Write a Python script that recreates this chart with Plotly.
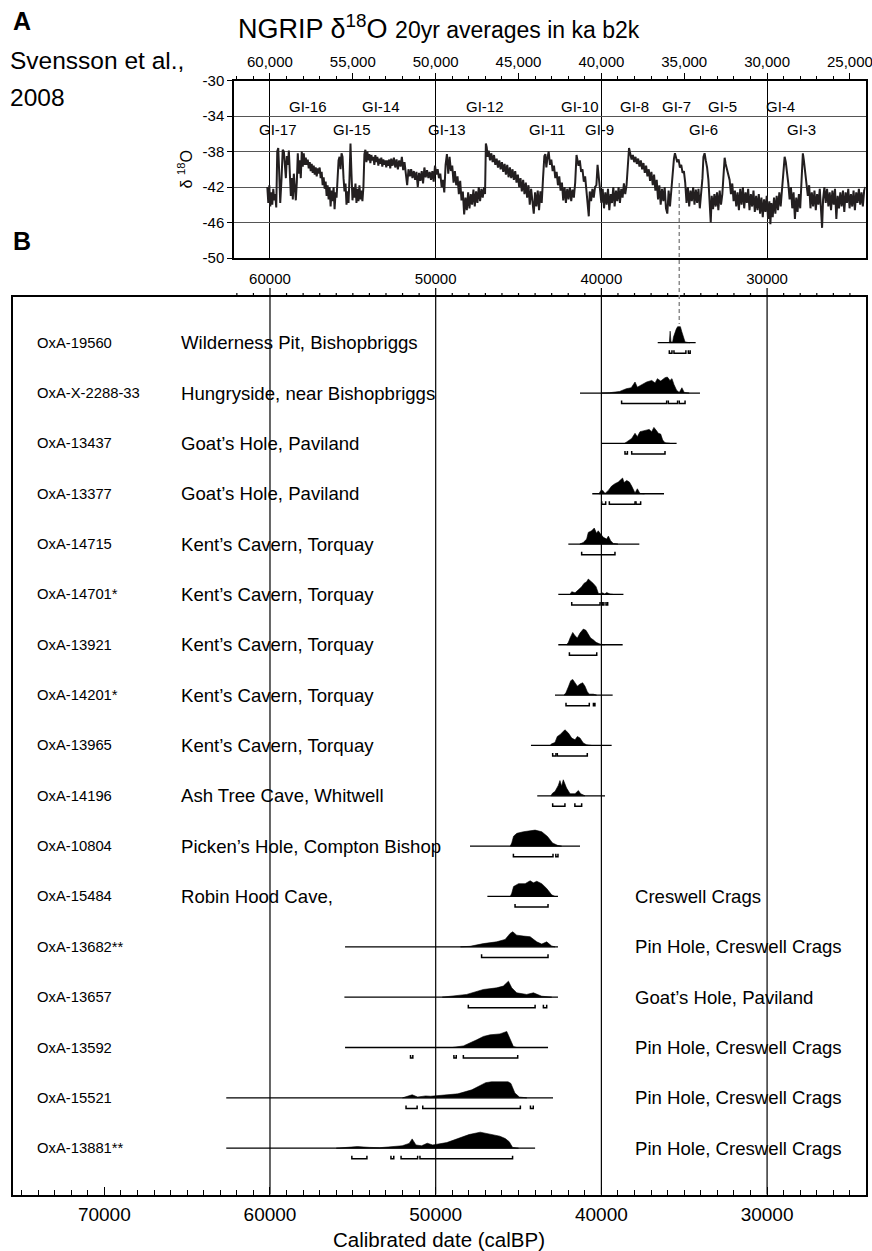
import plotly.graph_objects as go

# ---------------- DATA ----------------
ngrip = [
    (60160,-42.0),(60100,-43.8),(60040,-41.8),(59980,-44.2),(59920,-42.6),(59860,-44.0),(59800,-42.2),(59740,-43.5),
    (59680,-42.8),(59620,-44.3),(59560,-38.0),(59500,-37.6),(59440,-40.5),(59380,-43.8),(59300,-41.0),(59230,-37.8),
    (59160,-38.0),(59100,-39.5),(59040,-41.0),(58980,-38.5),(58920,-39.5),(58860,-37.9),(58800,-40.0),(58740,-43.0),
    (58680,-41.0),(58620,-43.4),(58560,-40.5),(58500,-42.0),(58440,-43.5),(58380,-41.5),(58320,-38.2),(58260,-40.5),
    (58200,-39.0),(58140,-41.0),(58080,-38.0),(58020,-39.7),(57960,-38.2),(57900,-39.5),(57840,-38.7),(57780,-39.5),
    (57720,-38.9),(57660,-39.9),(57600,-39.2),(57540,-40.2),(57480,-39.4),(57420,-40.4),(57360,-39.6),(57300,-40.6),
    (57240,-39.8),(57180,-40.8),(57120,-39.9),(57060,-40.5),(57000,-39.8),(56940,-41.0),(56880,-40.3),(56820,-41.8),
    (56760,-40.9),(56700,-42.2),(56640,-41.4),(56580,-43.0),(56520,-41.8),(56460,-43.4),(56400,-42.0),(56340,-44.2),
    (56280,-42.4),(56220,-43.6),(56160,-42.0),(56100,-44.5),(56040,-42.6),(55980,-43.2),(55920,-41.0),(55860,-39.0),
    (55800,-38.6),(55740,-40.0),(55680,-38.2),(55620,-38.6),(55560,-41.0),(55500,-42.5),(55440,-41.6),(55380,-44.0),
    (55320,-42.5),(55260,-43.8),(55200,-41.0),(55140,-37.1),(55080,-40.5),(55020,-43.5),(54960,-42.0),(54900,-43.2),
    (54840,-41.6),(54780,-43.8),(54720,-42.2),(54660,-43.6),(54600,-41.8),(54540,-43.4),(54480,-42.4),(54420,-43.6),
    (54360,-42.0),(54300,-38.3),(54240,-37.8),(54180,-39.2),(54120,-38.0),(54060,-39.0),(54000,-38.3),(53940,-39.3),
    (53880,-38.4),(53820,-39.0),(53760,-38.6),(53700,-39.5),(53640,-38.4),(53580,-39.2),(53520,-38.6),(53460,-39.6),
    (53400,-38.8),(53340,-39.4),(53280,-38.7),(53220,-39.7),(53160,-38.9),(53100,-39.5),(53040,-39.0),(52980,-39.8),
    (52920,-39.0),(52860,-39.6),(52800,-38.9),(52740,-39.9),(52680,-38.8),(52600,-39.6),(52520,-38.7),(52440,-39.8),
    (52360,-38.9),(52280,-40.0),(52200,-39.0),(52120,-39.7),(52040,-38.6),(51960,-40.1),(51880,-39.2),(51800,-40.4),
    (51720,-41.8),(51640,-40.0),(51560,-40.8),(51480,-40.0),(51400,-41.0),(51320,-40.2),(51240,-41.2),(51160,-40.3),
    (51080,-42.0),(51000,-40.4),(50920,-41.3),(50840,-40.2),(50760,-41.6),(50680,-39.8),(50600,-40.9),(50520,-40.1),
    (50440,-41.0),(50360,-40.3),(50280,-41.2),(50200,-40.2),(50120,-41.4),(50040,-39.6),(49960,-40.6),(49880,-40.0),
    (49800,-41.0),(49720,-40.5),(49640,-42.0),(49560,-41.2),(49480,-42.6),(49400,-39.5),(49320,-38.3),(49240,-40.5),
    (49160,-38.6),(49080,-40.2),(49000,-39.6),(48920,-41.5),(48840,-40.2),(48760,-41.8),(48680,-40.8),(48600,-42.8),
    (48520,-41.3),(48440,-43.5),(48360,-42.5),(48280,-45.1),(48200,-43.2),(48120,-44.6),(48040,-42.6),(47960,-44.4),
    (47880,-42.8),(47800,-44.0),(47720,-42.3),(47640,-44.2),(47560,-42.5),(47480,-43.8),(47400,-42.0),(47320,-43.6),
    (47240,-42.2),(47160,-43.2),(47080,-42.0),(47020,-42.8),(46970,-37.1),(46920,-37.5),(46860,-38.6),(46800,-37.9),
    (46720,-39.0),(46640,-38.2),(46560,-39.2),(46480,-38.4),(46400,-39.5),(46320,-38.8),(46240,-39.8),(46160,-39.0),
    (46080,-40.0),(46000,-39.2),(45920,-40.3),(45840,-39.4),(45760,-40.6),(45680,-39.5),(45600,-40.9),(45520,-39.8),
    (45440,-41.0),(45360,-40.0),(45280,-41.2),(45200,-40.2),(45120,-41.5),(45040,-40.6),(44960,-42.0),(44880,-41.0),
    (44800,-42.5),(44720,-41.2),(44640,-42.8),(44560,-41.5),(44480,-43.2),(44400,-41.8),(44320,-44.0),(44240,-42.2),
    (44160,-43.6),(44080,-45.0),(44000,-42.6),(43920,-44.2),(43840,-42.4),(43760,-44.6),(43680,-42.5),(43600,-43.8),
    (43520,-41.0),(43440,-38.5),(43380,-38.3),(43320,-39.8),(43260,-38.8),(43180,-38.0),(43100,-39.5),(43020,-38.9),
    (42940,-40.2),(42860,-39.6),(42780,-41.0),(42700,-40.3),(42620,-41.8),(42540,-40.8),(42460,-42.4),(42380,-41.5),
    (42300,-43.5),(42220,-42.0),(42140,-43.8),(42060,-42.2),(41980,-43.4),(41900,-42.0),(41820,-43.6),(41740,-42.3),
    (41660,-43.2),(41580,-41.5),(41500,-38.4),(41440,-38.9),(41380,-39.6),(41300,-39.0),(41220,-40.3),(41140,-40.0),
    (41060,-41.4),(40980,-40.8),(40900,-42.4),(40820,-43.8),(40760,-45.3),(40700,-42.5),(40620,-43.6),(40540,-42.2),
    (40460,-43.2),(40380,-42.0),(40300,-41.8),(40230,-39.5),(40160,-40.8),(40080,-42.6),(40000,-43.8),(39920,-42.2),
    (39840,-44.4),(39760,-42.6),(39680,-44.0),(39600,-42.2),(39520,-44.6),(39440,-42.8),(39360,-43.8),(39280,-42.0),
    (39200,-44.2),(39120,-42.4),(39040,-43.6),(38960,-42.0),(38880,-43.8),(38800,-42.2),(38720,-43.2),(38640,-41.6),
    (38560,-42.8),(38480,-41.8),(38400,-39.5),(38330,-37.6),(38260,-38.2),(38180,-38.9),(38100,-38.4),(38020,-39.2),
    (37940,-38.6),(37860,-39.4),(37780,-38.8),(37700,-39.7),(37620,-39.0),(37540,-40.0),(37460,-39.3),(37380,-40.4),
    (37300,-39.6),(37220,-40.8),(37140,-40.0),(37060,-41.3),(36980,-40.3),(36900,-41.8),(36820,-40.6),(36740,-42.4),
    (36660,-41.2),(36580,-43.4),(36500,-41.8),(36420,-44.0),(36340,-42.2),(36260,-43.6),(36180,-42.0),(36100,-44.4),
    (36020,-45.0),(35940,-42.4),(35860,-44.2),(35780,-42.0),(35700,-41.0),(35620,-38.8),(35560,-38.2),(35490,-38.7),
    (35420,-39.2),(35340,-38.9),(35260,-39.8),(35180,-39.5),(35100,-40.4),(35020,-40.2),(34940,-41.5),(34860,-43.8),
    (34780,-42.0),(34700,-44.2),(34620,-42.4),(34540,-43.6),(34460,-42.0),(34380,-44.0),(34300,-42.3),(34220,-43.8),
    (34140,-42.2),(34060,-44.4),(33980,-42.6),(33900,-41.0),(33840,-38.6),(33770,-38.2),(33700,-39.0),(33620,-39.8),
    (33540,-41.2),(33460,-43.8),(33400,-46.0),(33340,-43.0),(33260,-44.5),(33180,-42.8),(33100,-44.2),(33020,-42.6),
    (32940,-44.6),(32860,-42.4),(32780,-44.0),(32700,-42.8),(32620,-40.0),(32560,-38.7),(32500,-39.4),(32420,-40.0),
    (32340,-40.6),(32260,-41.2),(32180,-42.8),(32100,-41.6),(32020,-43.6),(31940,-42.4),(31860,-44.2),(31780,-42.6),
    (31700,-44.6),(31620,-42.2),(31540,-44.0),(31460,-42.0),(31380,-44.4),(31300,-42.6),(31220,-43.8),(31140,-42.2),
    (31060,-44.6),(30980,-42.8),(30900,-44.2),(30820,-42.4),(30740,-44.8),(30660,-43.0),(30580,-44.6),(30500,-42.8),
    (30420,-45.0),(30340,-43.2),(30260,-45.4),(30180,-43.4),(30100,-44.8),(30020,-43.0),(29940,-45.6),(29860,-43.6),
    (29800,-46.2),(29740,-43.8),(29660,-45.4),(29580,-43.2),(29500,-45.0),(29420,-43.0),(29340,-44.6),(29260,-42.6),
    (29180,-44.2),(29100,-42.0),(29020,-39.6),(28940,-38.6),(28870,-39.2),(28800,-40.8),(28720,-41.6),(28640,-43.4),
    (28560,-42.0),(28480,-44.4),(28400,-42.6),(28320,-45.6),(28240,-43.2),(28160,-44.8),(28080,-42.8),(28000,-44.4),
    (27920,-41.0),(27840,-38.2),(27780,-39.0),(27700,-40.4),(27620,-41.8),(27540,-43.0),(27460,-41.8),(27380,-44.4),
    (27300,-42.6),(27220,-44.2),(27140,-42.4),(27060,-44.6),(26980,-42.8),(26900,-44.0),(26820,-42.2),(26740,-44.8),
    (26680,-46.6),(26620,-43.4),(26540,-42.0),(26460,-43.8),(26380,-42.2),(26300,-44.2),(26220,-42.6),(26140,-44.6),
    (26060,-42.4),(25980,-44.0),(25900,-42.2),(25820,-45.6),(25740,-43.0),(25660,-44.4),(25580,-42.6),(25500,-44.2),
    (25420,-42.4),(25340,-44.8),(25260,-42.6),(25180,-43.8),(25100,-42.2),(25020,-44.4),(24940,-42.8),(24860,-44.2),
    (24780,-42.4),(24700,-44.6),(24620,-42.6),(24540,-43.8),(24460,-42.2),(24380,-44.0),(24300,-42.6),(24220,-44.2),
    (24140,-42.4),(24060,-42.0),
]

gi_upper = ["GI-16", "GI-14", "GI-12", "GI-10", "GI-8", "GI-7", "GI-5", "GI-4"]
gi_upper_age = [57710, 53300, 47030, 41290, 38030, 35440, 32660, 29160]
gi_lower = ["GI-17", "GI-15", "GI-13", "GI-11", "GI-9", "GI-6", "GI-3"]
gi_lower_age = [59520, 55050, 49320, 43280, 40090, 33810, 27950]
gi_upper_y = -32.9
gi_lower_y = -35.5

d18o_ticks = [-50, -46, -42, -38, -34, -30]
grid_ages = [60000, 50000, 40000, 30000]
link_age = 35300

sample_ids = ["OxA-19560", "OxA-X-2288-33", "OxA-13437", "OxA-13377", "OxA-14715", "OxA-14701*",
              "OxA-13921", "OxA-14201*", "OxA-13965", "OxA-14196", "OxA-10804", "OxA-15484",
              "OxA-13682**", "OxA-13657", "OxA-13592", "OxA-15521", "OxA-13881**"]
sites_left = ["Wilderness Pit, Bishopbriggs", "Hungryside, near Bishopbriggs", "Goat\u2019s Hole, Paviland",
              "Goat\u2019s Hole, Paviland", "Kent\u2019s Cavern, Torquay", "Kent\u2019s Cavern, Torquay",
              "Kent\u2019s Cavern, Torquay", "Kent\u2019s Cavern, Torquay", "Kent\u2019s Cavern, Torquay",
              "Ash Tree Cave, Whitwell", "Picken\u2019s Hole, Compton Bishop", "Robin Hood Cave,",
              "", "", "", "", ""]
sites_right = ["", "", "", "", "", "", "", "", "", "", "", "Creswell Crags",
               "Pin Hole, Creswell Crags", "Goat\u2019s Hole, Paviland", "Pin Hole, Creswell Crags",
               "Pin Hole, Creswell Crags", "Pin Hole, Creswell Crags"]

baselines = [(36600, 34310), (41290, 34050), (39980, 35460), (40550, 36220), (41995, 37710),
             (42600, 38670), (42600, 38715), (42800, 39320), (44250, 39380), (43870, 39780),
             (47930, 41290), (46880, 42620), (55470, 42620), (55510, 42620), (55470, 43220),
             (62640, 42920), (62640, 44000)]

P_19560 = [(35900,0),(35850,0.72),(35800,0.05),(35700,0.05),(35650,0.35),(35580,0.6),(35480,0.85),(35400,1.0),
           (35300,0.98),(35230,1.0),(35150,0.7),(35050,0.3),(34950,0.05),(34800,0.02),(34650,0)]
P_2288 = [(40000,0),(39500,0.02),(38900,0.1),(38500,0.27),(38200,0.33),(37970,0.69),(37830,0.37),(37500,0.54),
          (37270,0.69),(36960,0.79),(36760,0.63),(36620,0.9),(36420,0.75),(36160,0.96),(36020,1.0),(35860,0.79),
          (35740,0.9),(35620,0.54),(35460,0.17),(35300,0.04),(35140,0.33),(35000,0.04),(34700,0)]
P_13437 = [(38600,0),(38370,0.15),(38170,0.31),(37970,0.63),(37830,0.42),(37670,0.73),(37370,0.79),(37110,0.875),
           (36970,0.73),(36830,1.0),(36700,0.83),(36560,0.63),(36420,0.58),(36300,0.21),(36160,0.04),(35860,0)]
P_13377 = [(40150,0),(40030,0.2),(39920,0.21),(39780,0.02),(39580,0.21),(39380,0.48),(39180,0.63),(38980,0.73),
           (38720,0.98),(38630,0.7),(38470,0.83),(38310,0.73),(38170,0.48),(37970,0.04),(37830,0.31),(37670,0.02),(37400,0)]
P_14715 = [(41300,0),(41190,0.05),(41090,0.1),(40890,0.31),(40790,0.73),(40590,0.83),(40430,1.0),(40290,0.67),
           (40190,0.83),(40080,0.67),(39880,0.42),(39680,0.31),(39580,0.5),(39440,0.21),(39280,0.04),(39000,0)]
P_14701 = [(41900,0),(41790,0.17),(41590,0.1),(41390,0.27),(41190,0.48),(41050,0.69),(40890,0.79),(40790,0.96),
           (40650,0.85),(40490,0.69),(40320,0.48),(40180,0.06),(40000,0.04),(39920,0.1),(39800,0.02),(39680,0.12),
           (39480,0.02),(39300,0)]
P_13921 = [(42100,0),(41990,0.15),(41890,0.42),(41730,0.77),(41590,0.56),(41450,0.42),(41290,0.73),(41090,0.98),
           (40930,0.9),(40790,0.63),(40650,0.42),(40490,0.31),(40320,0.15),(40080,0.04),(39800,0)]
P_14201 = [(42250,0),(42140,0.15),(41990,0.52),(41850,0.9),(41730,0.98),(41590,0.77),(41450,0.56),(41290,0.69),
           (41130,0.77),(40990,0.56),(40850,0.21),(40730,0.06),(40490,0.06),(40290,0)]
P_13965 = [(43100,0),(43000,0.1),(42800,0.19),(42660,0.56),(42500,0.67),(42340,0.875),(42200,0.98),(41990,0.77),
           (41790,0.46),(41590,0.35),(41450,0.56),(41290,0.46),(41090,0.15),(40890,0.04),(40600,0)]
P_14196 = [(43050,0),(42940,0.17),(42800,0.27),(42600,0.65),(42500,0.95),(42400,0.6),(42300,1.0),(42180,0.69),
           (42100,0.48),(41890,0.13),(41590,0.13),(41390,0.33),(41250,0.13),(40990,0)]
P_10804 = [(45500,0),(45410,0.2),(45300,0.62),(45100,0.8),(44700,0.9),(44300,0.95),(44000,1.0),(43600,0.9),
           (43250,0.6),(42950,0.2),(42650,0.05),(42400,0)]
P_15484 = [(45500,0),(45410,0.2),(45300,0.62),(45000,0.8),(44600,0.8),(44300,0.98),(44100,0.85),(43900,0.95),
           (43600,0.8),(43300,0.5),(43000,0.1),(42800,0)]
P_13682 = [(48500,0),(47930,0.03),(47120,0.2),(46320,0.31),(45810,0.46),(45510,0.83),(45350,0.94),(45110,0.73),
           (44710,0.67),(44300,0.63),(43900,0.31),(43600,0.17),(43300,0.31),(43000,0.05),(42800,0)]
P_13657 = [(49600,0),(49130,0.04),(48130,0.17),(47120,0.48),(46320,0.58),(45920,0.69),(45610,1.0),(45410,0.58),
           (45110,0.27),(44510,0.17),(44100,0.27),(43600,0.06),(43300,0.02),(43000,0)]
P_13592 = [(49000,0),(48330,0.1),(47520,0.48),(47120,0.69),(46720,0.79),(46120,0.85),(45710,1.0),(45510,0.58),
           (45310,0.06),(45100,0)]
P_15521 = [(52000,0),(51700,0.08),(51420,0.19),(51090,0.05),(50800,0.1),(50610,0.12),(50300,0.1),(49670,0.15),
           (48660,0.25),(47820,0.5),(47310,0.75),(46980,0.95),(46640,1.0),(46130,1.0),(45630,1.0),(45460,0.9),
           (45220,0.3),(44950,0.05),(44500,0)]
P_13881 = [(56000,0),(55390,0.05),(54720,0.1),(54000,0.05),(53370,0.03),(52020,0.15),(51600,0.3),(51420,0.58),
           (51190,0.2),(50850,0.15),(50510,0.31),(50180,0.2),(49330,0.35),(48660,0.6),(47990,0.85),(47310,1.0),
           (46810,0.9),(46130,0.75),(45800,0.6),(45560,0.4),(45360,0.05),(45000,0)]

R_19560 = [(35900,35740),(35620,34900),(34750,34640)]
R_2288 = [(38780,36060),(35960,35400),(35300,34950)]
R_13437 = [(38575,38430),(38170,36160)]
R_13377 = [(39980,39740),(39520,37970),(37910,37630)]
R_14715 = [(41190,39180)]
R_14701 = [(41790,40080),(39950,39850),(39720,39620)]
R_13921 = [(41930,40280)]
R_14201 = [(42135,40730),(40480,40390)]
R_13965 = [(42940,42740),(42660,40850)]
R_14196 = [(42940,42200),(41600,41190)]
R_10804 = [(45310,42920),(42750,42620)]
R_15484 = [(45210,43220)]
R_13682 = [(47230,43220)]
R_13657 = [(48030,44000),(43500,43300)]
R_13592 = [(51520,51380),(48900,48760),(48330,45050)]
R_15521 = [(51790,51120),(50780,44890),(44280,44110)]
R_13881 = [(55060,54150),(52700,52530),(52090,51090),(50950,45360)]

profiles = [P_19560, P_2288, P_13437, P_13377, P_14715, P_14701, P_13921, P_14201, P_13965,
            P_14196, P_10804, P_15484, P_13682, P_13657, P_13592, P_15521, P_13881]
ranges = [R_19560, R_2288, R_13437, R_13377, R_14715, R_14701, R_13921, R_14201, R_13965,
          R_14196, R_10804, R_15484, R_13682, R_13657, R_13592, R_15521, R_13881]

# ---------------- LAYOUT ----------------
W, H = 872, 1251
FONT = "Liberation Sans, Arial, Helvetica, sans-serif"
def fx(p): return p / W
def fy(p): return 1 - p / H

A_X = (234, 865.5); A_Y = (80.5, 258)
B_X = (12.5, 865.5); B_Y = (297, 1194.5)
A_RANGE = [62170, 24060]
B_RANGE = [75540, 24060]
ROW_RANGE = [16.92, -0.908]
HS = 0.318
BO = 0.21
BT = 0.15

fig = go.Figure()
fig.add_trace(go.Scatter(x=[a for a, v in ngrip], y=[v for a, v in ngrip], mode="lines",
                         line=dict(color="#231f20", width=2.0), xaxis="x", yaxis="y",
                         showlegend=False, hoverinfo="skip"))
# invisible carrier so that the top b2k axis is drawn
fig.add_trace(go.Scatter(x=A_RANGE, y=[-50, -50], mode="markers", marker=dict(opacity=0),
                         xaxis="x3", yaxis="y", showlegend=False, hoverinfo="skip"))

bx, by = [], []
for i, (b0, b1) in enumerate(baselines):
    bx += [b0, b1, None]; by += [i, i, None]
fig.add_trace(go.Scatter(x=bx, y=by, mode="lines", line=dict(color="black", width=1.3),
                         xaxis="x2", yaxis="y2", showlegend=False, hoverinfo="skip"))
for i, prof in enumerate(profiles):
    xs = [a for a, h in prof]
    ys = [i - h * HS for a, h in prof]
    fig.add_trace(go.Scatter(x=xs + [xs[-1], xs[0]], y=ys + [i, i], mode="lines", fill="toself",
                             fillcolor="black", line=dict(color="black", width=0.6),
                             xaxis="x2", yaxis="y2", showlegend=False, hoverinfo="skip"))
rx, ry = [], []
for i, rs in enumerate(ranges):
    for a, b in rs:
        rx += [a, a, b, b, None]
        ry += [i + BT, i + BO, i + BO, i + BT, None]
fig.add_trace(go.Scatter(x=rx, y=ry, mode="lines", line=dict(color="black", width=1.5),
                         xaxis="x2", yaxis="y2", showlegend=False, hoverinfo="skip"))

annotations = []
def ann(**k):
    base = dict(showarrow=False, font=dict(family=FONT, size=15, color="black"))
    if "font" in k:
        f = dict(base["font"]); f.update(k.pop("font")); base["font"] = f
    base.update(k)
    annotations.append(base)

for t, a in zip(gi_upper, gi_upper_age):
    ann(text=t, x=a, y=gi_upper_y, xref="x", yref="y", xanchor="center", yanchor="middle")
for t, a in zip(gi_lower, gi_lower_age):
    ann(text=t, x=a, y=gi_lower_y, xref="x", yref="y", xanchor="center", yanchor="middle")

for i, sid in enumerate(sample_ids):
    ann(text=sid, x=fx(35), y=i, xref="paper", yref="y2", xanchor="left", yanchor="middle",
        font=dict(size=14.8))
    if sites_left[i]:
        ann(text=sites_left[i], x=fx(179), y=i, xref="paper", yref="y2", xanchor="left",
            yanchor="middle", font=dict(size=18.6))
    if sites_right[i]:
        ann(text=sites_right[i], x=fx(633), y=i, xref="paper", yref="y2", xanchor="left",
            yanchor="middle", font=dict(size=18.6))

ann(text="<b>A</b>", x=fx(11), y=fy(21), xref="paper", yref="paper", xanchor="left", yanchor="middle",
    font=dict(size=25))
ann(text="<b>B</b>", x=fx(11), y=fy(241), xref="paper", yref="paper", xanchor="left", yanchor="middle",
    font=dict(size=25))
ann(text="NGRIP \u03b4<sup>18</sup>O <span style='font-size:23px'>20yr averages in ka b2k</span>",
    x=fx(236), y=fy(27), xref="paper", yref="paper", xanchor="left", yanchor="middle", font=dict(size=27))
ann(text="Svensson et al.,", x=fx(8), y=fy(61), xref="paper", yref="paper", xanchor="left",
    yanchor="middle", font=dict(size=24.5))
ann(text="2008", x=fx(8), y=fy(97), xref="paper", yref="paper", xanchor="left",
    yanchor="middle", font=dict(size=24.5))

shapes = []
for g in grid_ages:
    shapes.append(dict(type="line", xref="x2", yref="y2 domain", x0=g, x1=g, y0=0, y1=1,
                       line=dict(color="black", width=1.2), layer="below"))
# outward ticks along the top edge of panel B (calBP scale of panel A)
for t in range(25000, 62001, 1000):
    tick_len = 9 if t % 10000 == 0 else 4
    shapes.append(dict(type="line", xref="x2", yref="paper", x0=t, x1=t,
                       y0=fy(B_Y[0]), y1=fy(B_Y[0] - tick_len),
                       line=dict(color="black", width=1.2)))
shapes.append(dict(type="line", xref="x2", yref="paper", x0=link_age, x1=link_age,
                   y0=fy(183), y1=fy(324), line=dict(color="#8c8c8c", width=1.5, dash="4px,3px")))

axis_font = dict(family=FONT, size=15, color="black")
fig.update_layout(
    width=W, height=H, margin=dict(l=0, r=0, t=0, b=0, pad=0, autoexpand=False),
    paper_bgcolor="white", plot_bgcolor="rgba(0,0,0,0)",
    font=dict(family=FONT, color="black"),
    xaxis=dict(domain=[fx(A_X[0]), fx(A_X[1])], range=A_RANGE, anchor="y", side="bottom",
               tickmode="array", tickvals=grid_ages, tickformat="d", ticks="", automargin=False,
               showgrid=True, gridcolor="black", gridwidth=1.2, zeroline=False,
               showline=True, linecolor="black", linewidth=1.5, tickfont=axis_font,
               ticklabelstandoff=6),
    xaxis3=dict(overlaying="x", anchor="y", side="top", range=A_RANGE, tickmode="linear",
                tick0=0, dtick=5000, tickformat=",d", ticks="outside", ticklen=6, tickwidth=1.2,
                tickcolor="black", automargin=False,
                minor=dict(ticks="outside", dtick=1000, tick0=0, ticklen=3,
                           tickcolor="black", tickwidth=1.2),
                showgrid=False, zeroline=False, showline=True, linecolor="black", linewidth=1.5,
                tickfont=axis_font, ticklabeloverflow="allow"),
    yaxis=dict(domain=[fy(A_Y[1]), fy(A_Y[0])], range=[-50, -30], anchor="x", automargin=False,
               tickmode="array", tickvals=d18o_ticks, ticktext=[str(t) for t in d18o_ticks],
               ticks="outside", ticklen=5, tickwidth=1.2, tickcolor="black",
               showgrid=True, gridcolor="#555555", gridwidth=1, zeroline=False,
               showline=True, mirror=True, linecolor="black", linewidth=1.5, tickfont=axis_font,
               title=dict(text="\u03b4 <sup>18</sup>O", font=dict(family=FONT, size=16), standoff=6)),
    xaxis2=dict(domain=[fx(B_X[0]), fx(B_X[1])], range=B_RANGE, anchor="y2", side="bottom",
                tickmode="linear", tick0=0, dtick=10000, tickformat="d", ticks="inside",
                ticklen=8, tickwidth=1.2, tickcolor="black", automargin=False,
                minor=dict(ticks="inside", dtick=1000, tick0=0, ticklen=5, tickcolor="black",
                           tickwidth=1.2),
                showgrid=False, zeroline=False, showline=True, mirror=True, linecolor="black",
                linewidth=2, tickfont=dict(family=FONT, size=19, color="black"),
                ticklabelstandoff=2,
                title=dict(text="Calibrated date (calBP)", font=dict(family=FONT, size=20.5),
                           standoff=9)),
    yaxis2=dict(domain=[fy(B_Y[1]), fy(B_Y[0])], range=ROW_RANGE, anchor="x2", automargin=False,
                showticklabels=False, ticks="", showgrid=False, zeroline=False,
                showline=True, mirror=True, linecolor="black", linewidth=2),
    annotations=annotations, shapes=shapes,
)

fig.write_html(
    "out.html",
    config={"displayModeBar": False, "responsive": False},
    post_script=("document.documentElement.style.margin='0';document.body.style.margin='0';"
                 "document.body.style.padding='0';document.body.style.overflow='hidden';"
                 "document.documentElement.style.overflow='hidden';"),
)
